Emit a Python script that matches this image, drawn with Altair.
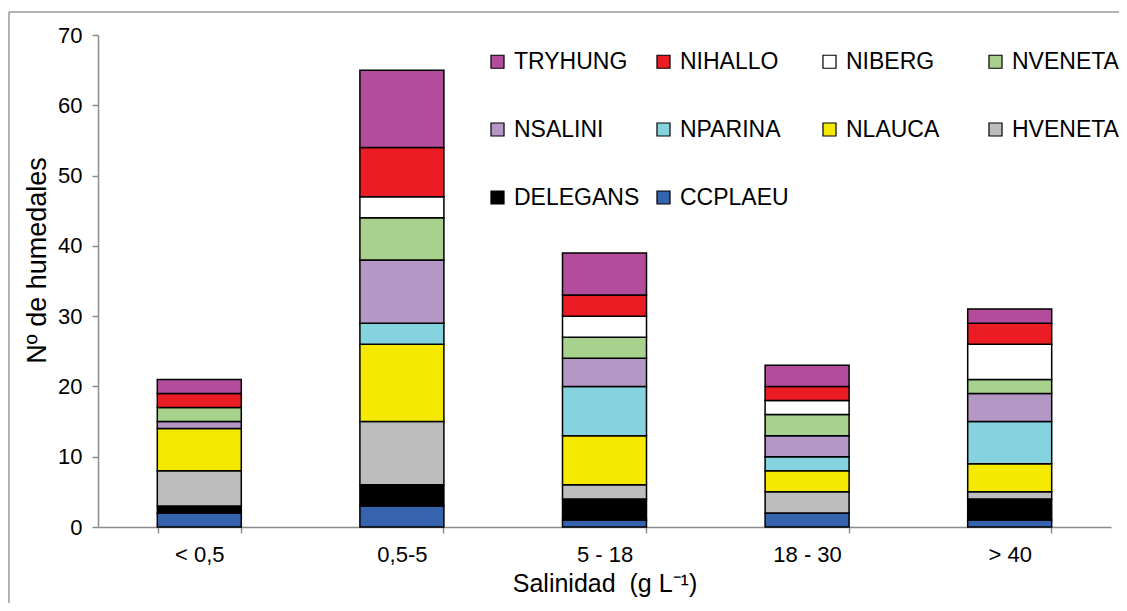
import altair as alt
import pandas as pd

categories = ["< 0,5", "0,5-5", "5 - 18", "18 - 30", "> 40"]
# stacking order bottom -> top
species = ["CCPLAEU", "DELEGANS", "HVENETA", "NLAUCA", "NPARINA",
           "NSALINI", "NVENETA", "NIBERG", "NIHALLO", "TRYHUNG"]
values = {
    "CCPLAEU":  [2, 3, 1, 2, 1],
    "DELEGANS": [1, 3, 3, 0, 3],
    "HVENETA":  [5, 9, 2, 3, 1],
    "NLAUCA":   [6, 11, 7, 3, 4],
    "NPARINA":  [0, 3, 7, 2, 6],
    "NSALINI":  [1, 9, 4, 3, 4],
    "NVENETA":  [2, 6, 3, 3, 2],
    "NIBERG":   [0, 3, 3, 2, 5],
    "NIHALLO":  [2, 7, 3, 2, 3],
    "TRYHUNG":  [2, 11, 6, 3, 2],
}
legend_order = ["TRYHUNG", "NIHALLO", "NIBERG", "NVENETA", "NSALINI",
                "NPARINA", "NLAUCA", "HVENETA", "DELEGANS", "CCPLAEU"]
colors = {
    "TRYHUNG": "#B34C9B", "NIHALLO": "#EC1C24", "NIBERG": "#FFFFFF",
    "NVENETA": "#A7D18D", "NSALINI": "#B597C6", "NPARINA": "#86D3E0",
    "NLAUCA": "#F5E900", "HVENETA": "#BDBDBD", "DELEGANS": "#000000",
    "CCPLAEU": "#3563AE",
}

rows = []
for i, sp in enumerate(species):
    for c, v in zip(categories, values[sp]):
        rows.append({"cat": c, "species": sp, "value": v, "ord": i})
df = pd.DataFrame(rows)

FONT = "Liberation Sans"
W, H = 1013, 492

bars = alt.Chart(df).transform_filter("datum.value > 0").mark_bar(
    stroke="black", strokeWidth=1.5, size=84
).encode(
    x=alt.X("cat:N", sort=categories,
            title="Salinidad\u00a0 (g L⁻¹)",
            scale=alt.Scale(paddingInner=0.59, paddingOuter=0.295),
            axis=alt.Axis(labelAngle=0, tickBand="extent", tickSize=6,
                          labelPadding=11, titlePadding=6,
                          domainColor="#8c8c8c", tickColor="#8c8c8c",
                          domainWidth=1.5, tickWidth=1.5)),
    y=alt.Y("value:Q", stack="zero", title="Nº de humedales",
            scale=alt.Scale(domain=[0, 70], nice=False),
            axis=alt.Axis(values=list(range(0, 71, 10)), grid=False,
                          tickSize=6, labelPadding=10, titlePadding=6,
                          titleY=225, titleFontSize=27,
                          domainColor="#8c8c8c", tickColor="#8c8c8c",
                          domainWidth=1.5, tickWidth=1.5)),
    color=alt.Color("species:N",
                    scale=alt.Scale(domain=legend_order,
                                    range=[colors[s] for s in legend_order]),
                    legend=alt.Legend(title=None, orient="none",
                                      direction="horizontal",
                                      legendX=388, legendY=15,
                                      columns=4, gridAlign="all",
                                      columnPadding=12, rowPadding=44,
                                      symbolType="square", symbolSize=170,
                                      symbolStrokeColor="black",
                                      symbolStrokeWidth=1.2,
                                      symbolOpacity=1,
                                      labelFontSize=23, labelFont=FONT,
                                      labelColor="black", labelOffset=5,
                                      labelLimit=300)),
    order=alt.Order("ord:Q", sort="ascending"),
)

one = pd.DataFrame({"a": [0]})
frame_left = alt.Chart(one).mark_rule(color="#9a9a9a", strokeWidth=1.5).encode(
    x=alt.value(-89), y=alt.value(-23), y2=alt.value(H + 76))
frame_top = alt.Chart(one).mark_rule(color="#9a9a9a", strokeWidth=1.5).encode(
    y=alt.value(-23), x=alt.value(-89), x2=alt.value(W + 8))

chart = alt.layer(frame_left, frame_top, bars).properties(
    width=W, height=H,
    autosize=alt.AutoSizeParams(type="none"),
    padding={"left": 90, "top": 27, "right": 8, "bottom": 76},
).configure_view(stroke=None).configure_axis(
    labelFont=FONT, titleFont=FONT, labelFontSize=22, titleFontSize=25,
    labelColor="black", titleColor="black", titleFontWeight="normal",
)

chart.save("out.html", embed_options={"renderer": "svg", "actions": False})
